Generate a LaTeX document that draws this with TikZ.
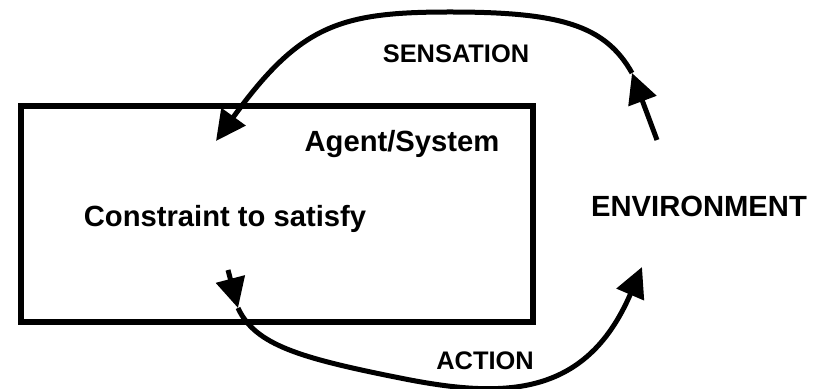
\documentclass[tikz,border=0pt]{standalone}
\usepackage{fontspec}
\setmainfont{Liberation Sans}
\usetikzlibrary{arrows.meta}
\begin{document}
\begin{tikzpicture}[x=0.5pt,y=-0.5pt,
  bigtext/.style={font=\bfseries\fontsize{14.6}{17}\selectfont, inner sep=0pt, anchor=base},
  smalltext/.style={font=\bfseries\fontsize{12.7}{15}\selectfont, inner sep=0pt, anchor=base},
  flow/.style={line width=2.5pt, -{Triangle[length=15pt,width=14.5pt]}}]
\useasboundingbox (0,0) rectangle (814,389);
\node (agent) [draw, line width=2.6pt, minimum width=256pt, minimum height=108pt, inner sep=0pt] at (277,214) {};
\node (agentlbl) [bigtext] at (402,152) {Agent/System};
\node (constraint) [bigtext] at (225,227) {Constraint to satisfy};
\node (env) [bigtext] at (699,217) {ENVIRONMENT};
\node (sens) [smalltext] at (456,63) {SENSATION};
\node (act) [smalltext] at (485,370) {ACTION};
% sensation
\coordinate (s0) at (657,140);
\coordinate (s1) at (632,73);
\coordinate (s2) at (450,12);
\coordinate (s3) at (216,141);
\draw[flow] (s0) -- (s1);
\draw[flow] (s1) .. controls (605,25) and (560,12) .. (s2)
               .. controls (340,12) and (300,25) .. (s3);
% action
\coordinate (a0) at (228,270);
\coordinate (a1) at (238,308);
\coordinate (a2) at (400,378);
\coordinate (a3) at (642,267);
\draw[flow] (a0) -- (a1);
\draw[flow] (a1) .. controls (255,345) and (300,358) .. (a2)
               .. controls (500,398) and (585,400) .. (a3);
\end{tikzpicture}
\end{document}
